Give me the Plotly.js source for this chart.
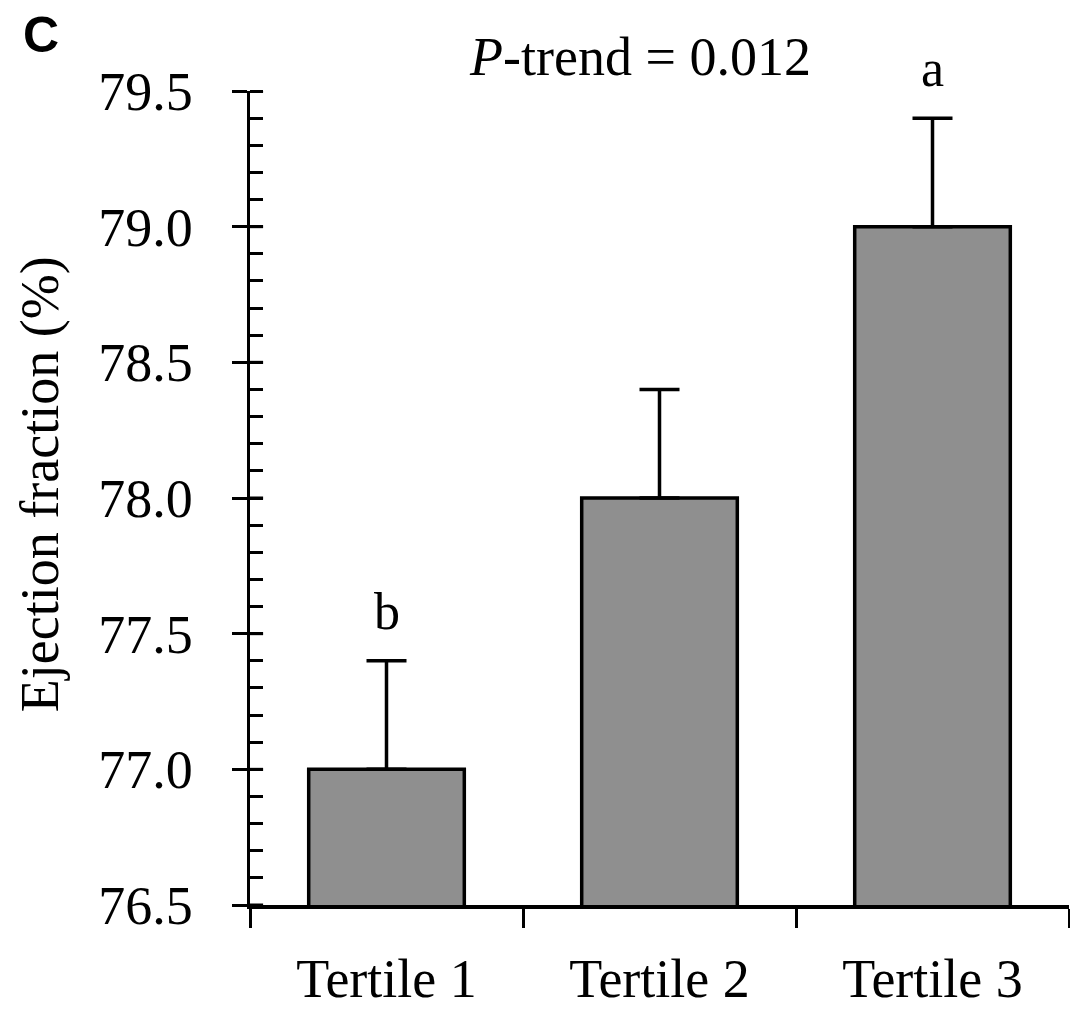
<!DOCTYPE html>
<html>
<head>
<meta charset="utf-8">
<script src="https://cdn.plot.ly/plotly-3.0.1.min.js"></script>
<style>html,body{margin:0;padding:0;background:#fff;}</style>
</head>
<body>
<div id="chart" style="width:1070px;height:1009px;"></div>
<script>
const categories = ['Tertile 1', 'Tertile 2', 'Tertile 3'];
const meanValues = [77.0, 78.0, 79.0];
const errorUpper = [0.4, 0.4, 0.4];
const errorLower = [0, 0, 0];
const groupLetters = ['b', '', 'a'];
const yTickValues = [76.5, 77.0, 77.5, 78.0, 78.5, 79.0, 79.5];
const panelLabel = 'C';
const trendText = '<i>P</i>-trend = 0.012';
const yTitle = 'Ejection fraction (%)';

const serif = 'Liberation Serif, Times New Roman, serif';

const trace = {
  type: 'bar',
  x: categories,
  y: meanValues,
  base: 0,
  width: 0.57,
  marker: {color: '#8f8f8f', line: {color: '#000', width: 3.5}},
  error_y: {
    type: 'data', symmetric: false,
    array: errorUpper, arrayminus: errorLower,
    color: '#000', thickness: 3.5, width: 20
  },
  hoverinfo: 'skip'
};

const annotations = [];
categories.forEach((c, i) => {
  if (groupLetters[i]) {
    annotations.push({
      x: c, y: meanValues[i] + errorUpper[i], xref: 'x', yref: 'y',
      text: groupLetters[i], showarrow: false, yanchor: 'bottom', yshift: 19,
      font: {family: serif, size: 52, color: '#000'}
    });
  }
});
annotations.push({
  xref: 'paper', yref: 'paper', x: 0.476, y: 1, yanchor: 'middle', yshift: 34,
  text: trendText, showarrow: false,
  font: {family: serif, size: 54, color: '#000'}
});
annotations.push({
  xref: 'paper', yref: 'paper', x: -0.279, y: 1, xanchor: 'left', yanchor: 'middle', yshift: 56,
  text: '<b>' + panelLabel + '</b>', showarrow: false,
  font: {family: 'Liberation Sans, Arial, sans-serif', size: 50, color: '#000'}
});
annotations.push({
  xref: 'paper', yref: 'paper', x: -0.2564, y: 0.517, xanchor: 'center', yanchor: 'middle',
  text: yTitle, textangle: -90, showarrow: false,
  font: {family: serif, size: 54, color: '#000'}
});

// inner half of the major y ticks (major ticks cross the axis line)
const shapes = yTickValues.map(v => ({
  type: 'line', layer: 'above',
  xref: 'paper', x0: 0, x1: 0.016,
  yref: 'y', y0: v, y1: v,
  line: {color: '#000', width: 3}
}));

const layout = {
  width: 1070, height: 1009,
  margin: {l: 250, r: 1, t: 91, b: 104},
  paper_bgcolor: '#fff', plot_bgcolor: '#fff',
  showlegend: false,
  font: {family: serif, size: 52, color: '#000'},
  xaxis: {
    type: 'category', range: [-0.5, 2.5],
    tickson: 'boundaries', ticks: 'outside', ticklen: 19, tickwidth: 3, tickcolor: '#000',
    showline: true, linecolor: '#000', linewidth: 3.5,
    showgrid: false, zeroline: false,
    ticklabelstandoff: 24,
    tickfont: {family: serif, size: 54, color: '#000'}
  },
  yaxis: {
    range: [76.5, 79.5],
    tickmode: 'array', tickvals: yTickValues,
    ticktext: yTickValues.map(v => v.toFixed(1)),
    ticks: 'outside', ticklen: 15, tickwidth: 3, tickcolor: '#000',
    minor: {ticks: 'inside', ticklen: 13, tickwidth: 3, dtick: 0.1, tick0: 76.5, tickcolor: '#000', showgrid: false},
    showline: true, linecolor: '#000', linewidth: 3.5,
    showgrid: false, zeroline: false,
    ticklabelstandoff: 28,
    tickfont: {family: serif, size: 54, color: '#000'}
  },
  shapes: shapes,
  annotations: annotations
};

Plotly.newPlot('chart', [trace], layout, {displayModeBar: false, staticPlot: true});
</script>
</body>
</html>
